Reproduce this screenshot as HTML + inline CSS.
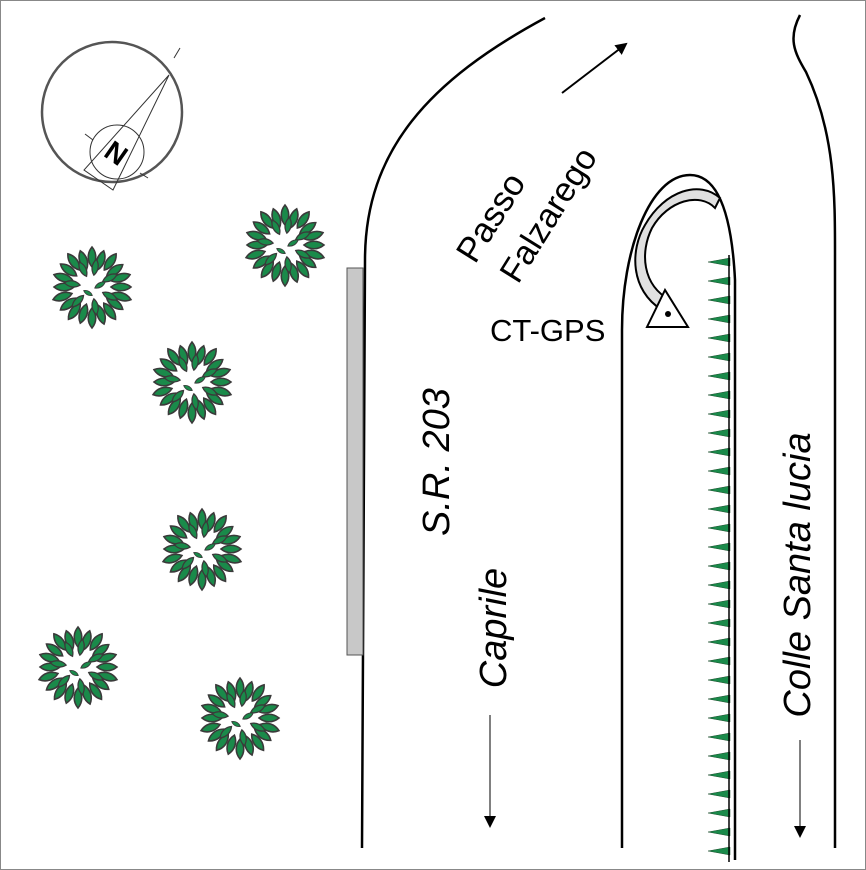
<!DOCTYPE html>
<html><head><meta charset="utf-8"><style>
html,body{margin:0;padding:0;background:#fff}
svg{display:block}
text{font-family:"Liberation Sans",Arial,sans-serif;fill:#000}
</style></head><body>
<svg width="866" height="870" viewBox="0 0 866 870" xmlns="http://www.w3.org/2000/svg">
<defs>
<path id="leaf" d="M0,-10 C5,-4 5,4 0,10 C-5,4 -5,-4 0,-10Z" fill="#1a8a4a" stroke="#3a3a3a" stroke-width="1.6"/>
<g id="tree">
<use href="#leaf" transform="rotate(0) translate(0,-30)"/>
<use href="#leaf" transform="rotate(18) translate(0,-28)"/>
<use href="#leaf" transform="rotate(36) translate(0,-31)"/>
<use href="#leaf" transform="rotate(54) translate(0,-28)"/>
<use href="#leaf" transform="rotate(72) translate(0,-30)"/>
<use href="#leaf" transform="rotate(90) translate(0,-29)"/>
<use href="#leaf" transform="rotate(108) translate(0,-31)"/>
<use href="#leaf" transform="rotate(126) translate(0,-28)"/>
<use href="#leaf" transform="rotate(144) translate(0,-30)"/>
<use href="#leaf" transform="rotate(162) translate(0,-29)"/>
<use href="#leaf" transform="rotate(180) translate(0,-31)"/>
<use href="#leaf" transform="rotate(198) translate(0,-28)"/>
<use href="#leaf" transform="rotate(216) translate(0,-30)"/>
<use href="#leaf" transform="rotate(234) translate(0,-29)"/>
<use href="#leaf" transform="rotate(252) translate(0,-31)"/>
<use href="#leaf" transform="rotate(270) translate(0,-28)"/>
<use href="#leaf" transform="rotate(288) translate(0,-30)"/>
<use href="#leaf" transform="rotate(306) translate(0,-29)"/>
<use href="#leaf" transform="rotate(324) translate(0,-31)"/>
<use href="#leaf" transform="rotate(342) translate(0,-28)"/>
<use href="#leaf" transform="rotate(9) translate(0,-20) scale(0.8)"/>
<use href="#leaf" transform="rotate(63) translate(0,-20) scale(0.8)"/>
<use href="#leaf" transform="rotate(117) translate(0,-20) scale(0.8)"/>
<use href="#leaf" transform="rotate(171) translate(0,-20) scale(0.8)"/>
<use href="#leaf" transform="rotate(225) translate(0,-20) scale(0.8)"/>
<use href="#leaf" transform="rotate(279) translate(0,-20) scale(0.8)"/>
<use href="#leaf" transform="rotate(333) translate(0,-20) scale(0.8)"/>
<use href="#leaf" transform="translate(8,-2) rotate(60) scale(0.6)"/>
<use href="#leaf" transform="translate(-4,6) rotate(120) scale(0.5)"/>
</g>
<marker id="ah" markerWidth="12" markerHeight="12" refX="10" refY="6" orient="auto" markerUnits="userSpaceOnUse"><path d="M0,0 L12,6 L0,12Z" fill="#000"/></marker>
</defs>
<rect x="0.5" y="0.5" width="865" height="869" fill="#fff" stroke="#888" stroke-width="1"/>

<!-- compass -->
<circle cx="112" cy="112" r="70" fill="none" stroke="#555" stroke-width="2.5"/>
<circle cx="117" cy="152" r="27" fill="none" stroke="#333" stroke-width="1"/>
<path d="M169,75 L84,170 L113,190 Z" fill="none" stroke="#333" stroke-width="1"/>
<line x1="174" y1="58" x2="180" y2="48" stroke="#333"/>
<line x1="85" y1="134" x2="93" y2="140" stroke="#333"/>
<line x1="140" y1="173" x2="148" y2="178" stroke="#333"/>
<text x="117" y="163" font-size="28" font-weight="bold" text-anchor="middle" transform="rotate(35 117 152)">N</text>

<!-- trees -->
<use href="#tree" transform="translate(285,245)"/>
<use href="#tree" transform="translate(92,287)"/>
<use href="#tree" transform="translate(192,382)"/>
<use href="#tree" transform="translate(202,549)"/>
<use href="#tree" transform="translate(78,667)"/>
<use href="#tree" transform="translate(240,718)"/>

<!-- roads -->
<path d="M545,18 C430,80 365,150 365,260 L362,848" fill="none" stroke="#000" stroke-width="2.5"/>
<rect x="347" y="268" width="16" height="387" fill="#c8c8c8" stroke="#555" stroke-width="1"/>
<path d="M622,848 L622,330 C622,250 650,175 690,175 C720,175 732,220 735,280 L735,860" fill="none" stroke="#000" stroke-width="2.5"/>
<path d="M800,15 C788,38 794,52 806,72 C836,135 835,200 835,260 L835,848" fill="none" stroke="#000" stroke-width="2.5"/>
<!-- hook -->
<path d="M662,310 C630,290 630,250 645,225 C665,190 700,180 720,198 L715,208 C700,192 668,200 652,228 C640,252 642,285 670,300 Z" fill="#e0e0e0" stroke="#000" stroke-width="2"/>
<!-- triangle -->
<path d="M665,290 L647,327 L688,327 Z" fill="#fff" stroke="#000" stroke-width="2"/>
<circle cx="668" cy="314" r="3" fill="#000"/>
<!-- spikes -->
<g fill="#1a8a4a" stroke="#1a4a2a" stroke-width="0.5">
<path d="M730,258 L708,262 L730,266Z"/><path d="M730,277 L708,281 L730,285Z"/><path d="M730,296 L708,300 L730,304Z"/>
<path d="M730,315 L708,319 L730,323Z"/><path d="M730,334 L708,338 L730,342Z"/><path d="M730,353 L708,357 L730,361Z"/>
<path d="M730,372 L708,376 L730,380Z"/><path d="M730,391 L708,395 L730,399Z"/><path d="M730,410 L708,414 L730,418Z"/>
<path d="M730,429 L708,433 L730,437Z"/><path d="M730,448 L708,452 L730,456Z"/><path d="M730,467 L708,471 L730,475Z"/>
<path d="M730,486 L708,490 L730,494Z"/><path d="M730,505 L708,509 L730,513Z"/><path d="M730,524 L708,528 L730,532Z"/>
<path d="M730,543 L708,547 L730,551Z"/><path d="M730,562 L708,566 L730,570Z"/><path d="M730,581 L708,585 L730,589Z"/>
<path d="M730,600 L708,604 L730,608Z"/><path d="M730,619 L708,623 L730,627Z"/><path d="M730,638 L708,642 L730,646Z"/>
<path d="M730,657 L708,661 L730,665Z"/><path d="M730,676 L708,680 L730,684Z"/><path d="M730,695 L708,699 L730,703Z"/>
<path d="M730,714 L708,718 L730,722Z"/><path d="M730,733 L708,737 L730,741Z"/><path d="M730,752 L708,756 L730,760Z"/>
<path d="M730,771 L708,775 L730,779Z"/><path d="M730,790 L708,794 L730,798Z"/><path d="M730,809 L708,813 L730,817Z"/>
<path d="M730,828 L708,832 L730,836Z"/><path d="M730,847 L708,851 L730,855Z"/>
</g>
<line x1="729" y1="255" x2="729" y2="862" stroke="#000" stroke-width="1.5"/>

<!-- arrows -->
<line x1="562" y1="93" x2="626" y2="44" stroke="#000" stroke-width="2" marker-end="url(#ah)"/>
<line x1="490" y1="715" x2="490" y2="826" stroke="#000" stroke-width="1" marker-end="url(#ah)"/>
<line x1="800" y1="740" x2="800" y2="836" stroke="#000" stroke-width="1" marker-end="url(#ah)"/>

<!-- labels -->
<text font-size="35" transform="translate(475,265) rotate(-58)">Passo</text>
<text font-size="34" transform="translate(518,285) rotate(-58)">Falzarego</text>
<text x="490" y="341" font-size="31">CT-GPS</text>
<text font-size="38" font-style="italic" text-anchor="middle" transform="translate(449,462) rotate(-90)">S.R. 203</text>
<text font-size="38" font-style="italic" text-anchor="middle" transform="translate(506,628) rotate(-90)">Caprile</text>
<text font-size="38" font-style="italic" text-anchor="middle" transform="translate(810,575) rotate(-90)">Colle Santa lucia</text>
</svg>
</body></html>
